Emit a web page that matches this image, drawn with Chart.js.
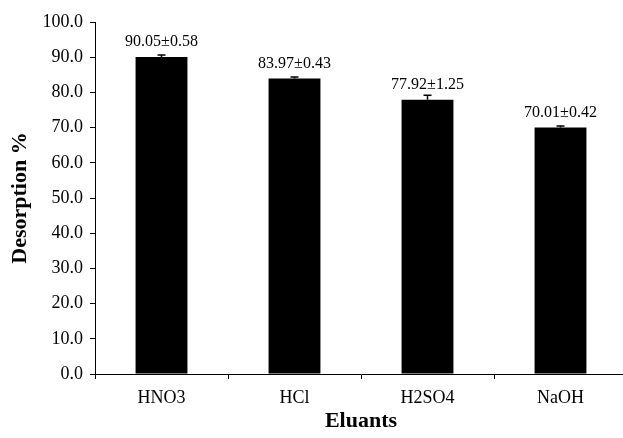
<!DOCTYPE html>
<html>
<head>
<meta charset="utf-8">
<script src="https://cdn.jsdelivr.net/npm/chart.js@4/dist/chart.umd.min.js"></script>
<style>
    html, body { margin: 0; padding: 0; overflow: hidden; background: #fff; }
    #wrap { width: 632px; height: 438px; }
</style>
</head>
<body>
<div id="wrap"><canvas id="desorptionChart"></canvas></div>
<script>
const eluants = ['HNO3', 'HCl', 'H2SO4', 'NaOH'];
const desorption = [90.05, 83.97, 77.92, 70.01];
const errors = [0.58, 0.43, 1.25, 0.42];
const yTicks = [0, 10, 20, 30, 40, 50, 60, 70, 80, 90, 100];

const serif = "'Liberation Serif', 'Times New Roman', serif";

// error bars (upper only) and value labels above each bar
const errorBarPlugin = {
    id: 'errorBars',
    afterDatasetsDraw(chart) {
        const ctx = chart.ctx;
        const meta = chart.getDatasetMeta(0);
        const yScale = chart.scales.y;
        ctx.save();
        meta.data.forEach(function (bar, i) {
            const top = yScale.getPixelForValue(desorption[i]);
            const errTop = yScale.getPixelForValue(desorption[i] + errors[i]);
            ctx.strokeStyle = '#000';
            ctx.lineWidth = 1.5;
            ctx.beginPath();
            ctx.moveTo(bar.x, top);
            ctx.lineTo(bar.x, errTop);
            ctx.moveTo(bar.x - 4, errTop);
            ctx.lineTo(bar.x + 4, errTop);
            ctx.stroke();

            ctx.fillStyle = '#000';
            ctx.font = '16px ' + serif;
            ctx.textAlign = 'center';
            ctx.textBaseline = 'middle';
            ctx.fillText(desorption[i].toFixed(2) + '\u00b1' + errors[i].toFixed(2), bar.x, top - 15);
        });
        ctx.restore();
    }
};

const ctx = document.getElementById('desorptionChart').getContext('2d');
const chart = new Chart(ctx, {
    type: 'bar',
    data: {
        labels: eluants,
        datasets: [{
            label: 'Desorption %',
            data: desorption,
            backgroundColor: '#000',
            borderColor: '#000',
            borderWidth: 0,
            barPercentage: 0.39,
            categoryPercentage: 1.0
        }]
    },
    options: {
        responsive: true,
        maintainAspectRatio: false,
        animation: false,
        layout: {
            padding: { top: 22, right: 5, bottom: 0, left: 0 }
        },
        plugins: {
            legend: { display: false },
            tooltip: { enabled: false }
        },
        scales: {
            x: {
                offset: true,
                grid: {
                    offset: true,
                    drawOnChartArea: false,
                    drawTicks: true,
                    tickLength: 5,
                    tickColor: '#000'
                },
                border: { color: '#000', width: 1 },
                ticks: {
                    color: '#000',
                    padding: 8,
                    font: { family: serif, size: 18 }
                },
                title: {
                    display: true,
                    text: 'Eluants',
                    color: '#000',
                    padding: { top: 0, bottom: 3 },
                    font: { family: serif, size: 22, weight: 'bold' }
                },
                afterFit(scale) { scale.height = 64; }
            },
            y: {
                min: 0,
                max: 100,
                afterBuildTicks(scale) {
                    scale.ticks = yTicks.map(v => ({ value: v }));
                },
                grid: {
                    drawOnChartArea: false,
                    drawTicks: true,
                    tickLength: 5,
                    tickColor: '#000'
                },
                border: { color: '#000', width: 1 },
                ticks: {
                    color: '#000',
                    padding: 7,
                    font: { family: serif, size: 18 },
                    callback: v => Number(v).toFixed(1)
                },
                title: {
                    display: true,
                    text: 'Desorption %',
                    color: '#000',
                    padding: { top: 7, bottom: 0 },
                    font: { family: serif, size: 22, weight: 'bold' }
                },
                afterFit(scale) { scale.width = 95; }
            }
        }
    },
    plugins: [errorBarPlugin]
});
</script>
</body>
</html>
